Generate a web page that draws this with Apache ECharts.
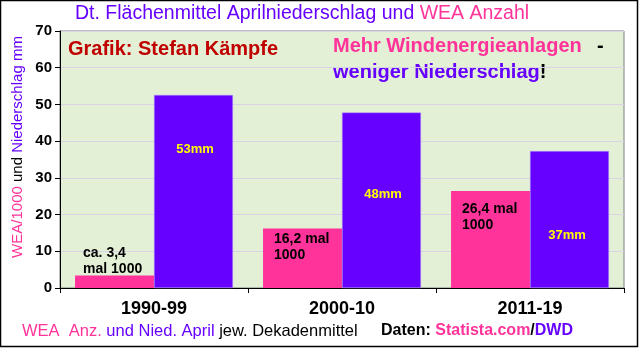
<!DOCTYPE html>
<html>
<head>
<meta charset="utf-8">
<script src="https://cdn.jsdelivr.net/npm/echarts@6/dist/echarts.min.js"></script>
<style>
html,body{margin:0;padding:0;background:#fff;}
#c{width:640px;height:348px;}
</style>
</head>
<body>
<div id="c"></div>
<script>
// ---- data ----
const categories = ['1990-99', '2000-10', '2011-19'];
const weaPer1000 = [3.4, 16.2, 26.4];          // WEA Anzahl / 1000
const aprilRainMm = [52.6, 47.8, 37.3];        // Niederschlag April mm
const weaLabels = ['ca. 3,4\nmal 1000', '16,2 mal\n1000', '26,4 mal\n1000'];
const rainLabels = ['53mm', '48mm', '37mm'];
const yTicks = [0, 10, 20, 30, 40, 50, 60, 70];

// ---- layout (not data) ----
const weaLabelPos = [[8, -30], [11, 3], [11, 10]];
const rainLabelPos = [[41, 55], [41, 82], [37, 84]];

const PINK = '#ff3399', PURPLE = '#6600ff', FONT = 'Arial, "Liberation Sans", sans-serif';

const chart = echarts.init(document.getElementById('c'), null, {renderer: 'canvas'});

const pinkData = weaPer1000.map((v, i) => ({
  value: v,
  label: {show: true, formatter: weaLabels[i], position: weaLabelPos[i], align: 'left', verticalAlign: 'top',
    color: '#000', fontWeight: 'bold', fontSize: 14, lineHeight: 16, fontFamily: FONT}
}));
const purpleData = aprilRainMm.map((v, i) => ({
  value: v,
  label: {show: true, formatter: rainLabels[i], position: rainLabelPos[i], align: 'center', verticalAlign: 'middle',
    color: '#ffff00', fontWeight: 'bold', fontSize: 13, fontFamily: FONT}
}));

chart.setOption({
  animation: false,
  textStyle: {fontFamily: FONT},
  grid: {left: 60, right: 16, top: 31, bottom: 60, show: true, backgroundColor: '#e3f0d5', borderColor: '#7f7f7f', borderWidth: 1},
  xAxis: {
    type: 'category', data: categories,
    axisLine: {lineStyle: {color: '#000', width: 1}},
    axisTick: {show: true, length: 5, lineStyle: {color: '#000'}},
    axisLabel: {color: '#000', fontWeight: 'bold', fontSize: 18, margin: 12, fontFamily: FONT}
  },
  yAxis: {
    type: 'value', min: 0, max: 70, interval: 10,
    axisLine: {show: true, lineStyle: {color: '#000', width: 1}},
    axisTick: {show: true, length: 5, lineStyle: {color: '#000'}},
    axisLabel: {color: '#000', fontWeight: 'bold', fontSize: 15, margin: 8, fontFamily: FONT,
      formatter: v => yTicks.includes(v) ? String(v) : ''},
    splitLine: {show: true, lineStyle: {color: '#d9d3e6', width: 1}}
  },
  series: [
    {type: 'bar', name: 'WEA', data: pinkData, itemStyle: {color: PINK}, barGap: '0%', barCategoryGap: '16%'},
    {type: 'bar', name: 'Niederschlag', data: purpleData, itemStyle: {color: PURPLE, borderColor: '#b59cff', borderWidth: 0.5}, barGap: '0%', barCategoryGap: '16%'}
  ],
  graphic: [
    {type: 'rect', shape: {x: 0.5, y: 0.5, width: 637, height: 346}, style: {fill: 'none', stroke: '#000', lineWidth: 1.5}, silent: true, z: 100},
    {type: 'text', left: 75, top: 4, style: {
      text: '{p|Dt. Flächenmittel Aprilniederschlag und }{k|WEA Anzahl}',
      rich: {p: {fill: PURPLE, fontSize: 19.5, fontFamily: FONT}, k: {fill: PINK, fontSize: 19.5, fontFamily: FONT}}
    }},
    {type: 'text', x: 18, y: 147, rotation: Math.PI / 2, style: {
      text: '{k|WEA/1000}{b| und }{p|Niederschlag mm}', align: 'center', verticalAlign: 'middle',
      rich: {k: {fill: PINK, fontSize: 15, fontFamily: FONT}, b: {fill: '#000', fontSize: 15, fontFamily: FONT}, p: {fill: PURPLE, fontSize: 15, fontFamily: FONT}}
    }},
    {type: 'text', left: 68, top: 39, style: {text: 'Grafik: Stefan Kämpfe', fill: '#c00000', fontSize: 20, fontWeight: 'bold', fontFamily: FONT}},
    {type: 'text', left: 333, top: 36, style: {text: 'Mehr Windenergieanlagen', fill: PINK, fontSize: 20, fontWeight: 'bold', fontFamily: FONT}},
    {type: 'text', left: 597, top: 36, style: {text: '-', fill: '#000', fontSize: 20, fontWeight: 'bold', fontFamily: FONT}},
    {type: 'text', left: 333, top: 62, style: {
      text: '{p|weniger Niederschlag}{b|!}',
      rich: {p: {fill: PURPLE, fontSize: 20, fontWeight: 'bold', fontFamily: FONT}, b: {fill: '#000', fontSize: 20, fontWeight: 'bold', fontFamily: FONT}}
    }},
    {type: 'text', left: 22, top: 323, style: {
      text: '{k|WEA  Anz. }{p|und Nied. April }{b|jew. Dekadenmittel}',
      rich: {k: {fill: PINK, fontSize: 16.5, fontFamily: FONT}, p: {fill: PURPLE, fontSize: 16.5, fontFamily: FONT}, b: {fill: '#000', fontSize: 16.5, fontFamily: FONT}}
    }},
    {type: 'text', left: 381, top: 323, style: {
      text: '{b|Daten: }{k|Statista.com}{b|/}{p|DWD}',
      rich: {k: {fill: PINK, fontSize: 16, fontWeight: 'bold', fontFamily: FONT}, p: {fill: PURPLE, fontSize: 16, fontWeight: 'bold', fontFamily: FONT}, b: {fill: '#000', fontSize: 16, fontWeight: 'bold', fontFamily: FONT}}
    }}
  ]
});
</script>
</body>
</html>
